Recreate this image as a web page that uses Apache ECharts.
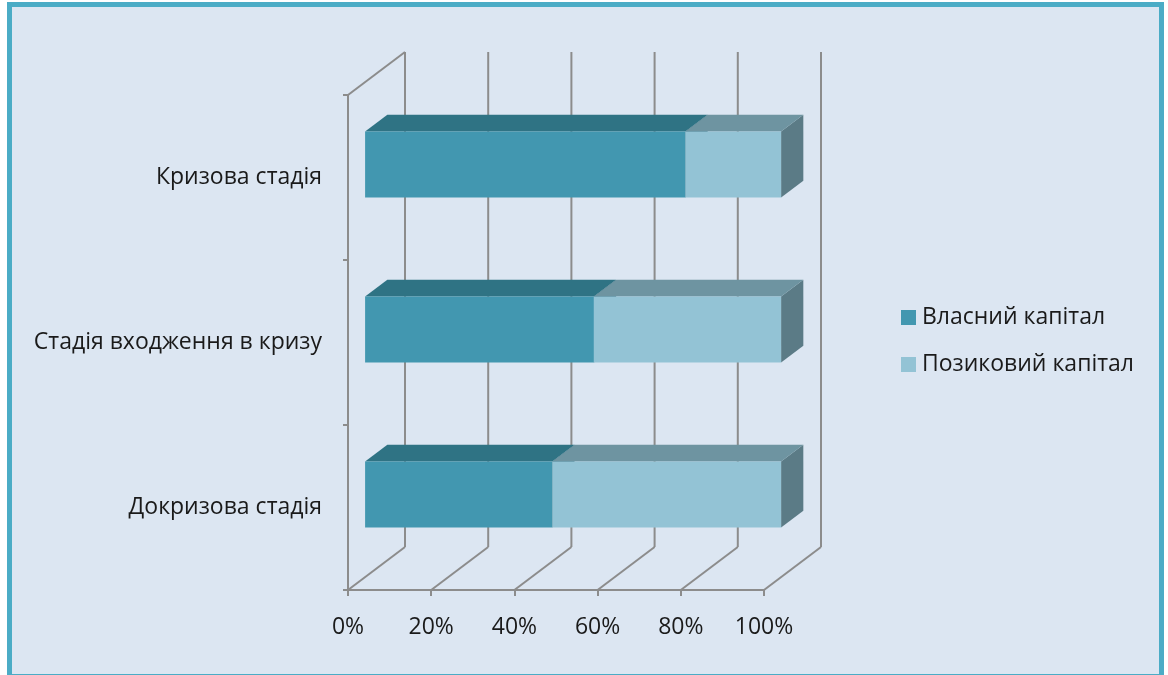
<!DOCTYPE html>
<html>
<head>
<meta charset="utf-8">
<script src="https://cdn.jsdelivr.net/npm/echarts@6/dist/echarts.min.js"></script>
<style>
html,body{margin:0;padding:0;background:#fff;}
#chart{width:1168px;height:675px;}
</style>
</head>
<body>
<div id="chart"></div>
<script>
// ---- data ----
const categories = ['Докризова стадія', 'Стадія входження в кризу', 'Кризова стадія'];
const seriesNames = ['Власний капітал', 'Позиковий капітал'];
const ownCapital = [45, 55, 77];
const borrowedCapital = [55, 45, 23];
const xTicks = [0, 20, 40, 60, 80, 100];

// ---- style ----
const FONT = 'Open Sans';
const DX = 57, DY = 43;          // full depth of the 3D box in px
const BAR_FRONT = 0.3, BAR_DEPTH = 0.39, BAR_THICK = 0.4;
const GRID_COLOR = '#8C8C8C';
const palettes = [
  {front: '#4297B0', top: '#2F7384', side: '#2A6677'},
  {front: '#93C3D5', top: '#6E94A1', side: '#5B7B86'}
];

const chart = echarts.init(document.getElementById('chart'));

const ownData = categories.map((c, i) => [0, ownCapital[i], i]);
const borData = categories.map((c, i) => [ownCapital[i], ownCapital[i] + borrowedCapital[i], i]);

function barRenderer(pal) {
  return function (params, api) {
    const s = api.value(0), e = api.value(1), ci = api.value(2);
    const p0 = api.coord([s, ci]);
    const p1 = api.coord([e, ci]);
    const bandH = api.size([0, 1])[1];
    const h = bandH * BAR_THICK;
    const sx = DX * BAR_FRONT, sy = DY * BAR_FRONT;
    const bdx = DX * BAR_DEPTH, bdy = DY * BAR_DEPTH;
    const x0 = p0[0] + sx, x1 = p1[0] + sx;
    const y0 = p0[1] - h / 2 - sy, y1 = p0[1] + h / 2 - sy;
    return {
      type: 'group',
      children: [
        {type: 'polygon', shape: {points: [[x1, y0], [x1 + bdx, y0 - bdy], [x1 + bdx, y1 - bdy], [x1, y1]]}, style: {fill: pal.side}},
        {type: 'polygon', shape: {points: [[x0, y0], [x1, y0], [x1 + bdx, y0 - bdy], [x0 + bdx, y0 - bdy]]}, style: {fill: pal.top}},
        {type: 'rect', shape: {x: x0, y: y0, width: x1 - x0, height: y1 - y0}, style: {fill: pal.front}}
      ]
    };
  };
}

function wallRenderer(params, api) {
  const v = api.value(0);
  const n = categories.length;
  const bandH = api.size([0, 1])[1];
  const pb = api.coord([v, 0]);
  const pt = api.coord([v, n - 1]);
  const yFloor = pb[1] + bandH / 2;
  const yTop = pt[1] - bandH / 2;
  const x = pb[0];
  const ls = {stroke: GRID_COLOR, lineWidth: 2, fill: null};
  const children = [
    {type: 'line', shape: {x1: x + DX, y1: yFloor - DY, x2: x + DX, y2: yTop - DY}, style: ls},
    {type: 'line', shape: {x1: x, y1: yFloor, x2: x + DX, y2: yFloor - DY}, style: ls}
  ];
  if (v === xTicks[0]) {
    children.push({type: 'line', shape: {x1: x, y1: yTop, x2: x + DX, y2: yTop - DY}, style: ls});
  }
  return {type: 'group', children: children};
}

const option = {
  backgroundColor: '#fff',
  animation: false,
  textStyle: {fontFamily: FONT},
  graphic: [{
    type: 'rect', z: -10, silent: true,
    shape: {x: 9.5, y: 4.5, width: 1152, height: 672},
    style: {fill: '#DCE6F2', stroke: '#4BACC6', lineWidth: 5}
  }],
  grid: {left: 348, right: 404, top: 95, bottom: 85},
  legend: {
    orient: 'vertical', left: 896, top: 301, itemGap: 24,
    itemWidth: 15, itemHeight: 15, icon: 'rect',
    textStyle: {fontFamily: FONT, fontSize: 23, color: '#1a1a1a', padding: [0, 0, 0, 1]},
    data: seriesNames
  },
  xAxis: {
    type: 'value', min: 0, max: 100, interval: 20,
    axisLine: {show: true, lineStyle: {color: GRID_COLOR, width: 2}},
    axisTick: {show: true, length: 6, lineStyle: {color: GRID_COLOR, width: 2}},
    splitLine: {show: false},
    axisLabel: {formatter: '{value}%', fontFamily: FONT, fontSize: 23, color: '#1a1a1a', margin: 26}
  },
  yAxis: {
    type: 'category', data: categories,
    axisLine: {show: true, lineStyle: {color: GRID_COLOR, width: 2}},
    axisTick: {show: true, length: 5, lineStyle: {color: GRID_COLOR, width: 2}},
    axisLabel: {fontFamily: FONT, fontSize: 23, color: '#1a1a1a', margin: 26, padding: [13, 0, 0, 0]}
  },
  series: [
    {
      type: 'custom', name: 'walls', z: 1, silent: true,
      data: xTicks.map(v => [v, 0]),
      encode: {x: 0, y: 1},
      renderItem: wallRenderer
    },
    {
      type: 'custom', name: seriesNames[0], z: 2,
      itemStyle: {color: palettes[0].front},
      data: ownData, encode: {x: [0, 1], y: 2},
      renderItem: barRenderer(palettes[0])
    },
    {
      type: 'custom', name: seriesNames[1], z: 3,
      itemStyle: {color: palettes[1].front},
      data: borData, encode: {x: [0, 1], y: 2},
      renderItem: barRenderer(palettes[1])
    }
  ]
};
chart.setOption(option);
</script>
</body>
</html>
